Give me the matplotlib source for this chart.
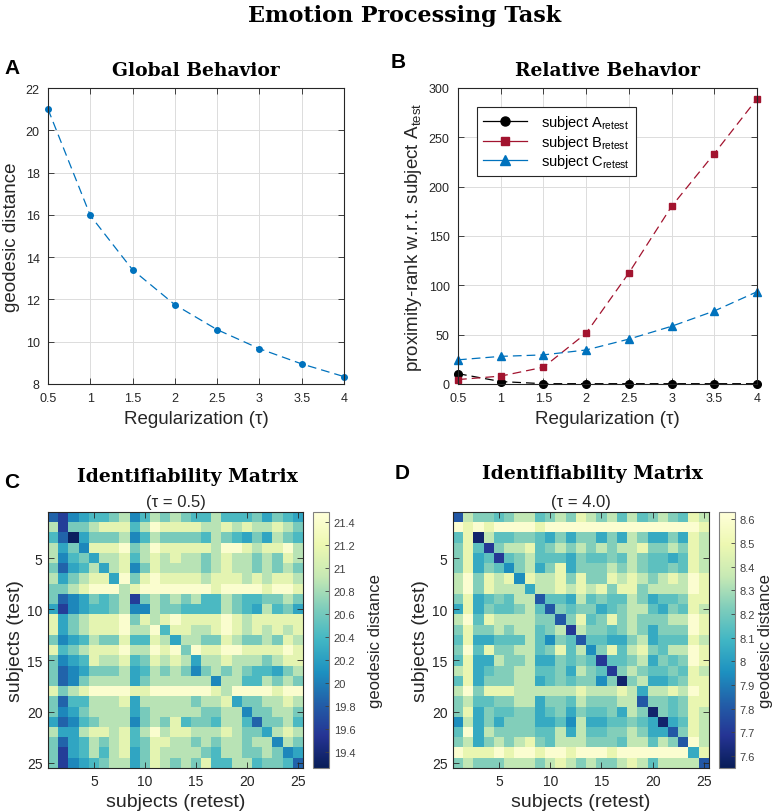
import numpy as np
import matplotlib as mpl
import matplotlib.pyplot as plt

mpl.use('AGG')

# ---------------------------------------------------------------------------------------------
# Data
tau = [0.5, 1.0, 1.5, 2.0, 2.5, 3.0, 3.5, 4.0]
global_dist = [21.0, 15.97, 13.4, 11.75, 10.57, 9.67, 8.95, 8.35]

rank_a = [10.5, 2.5, 0.3, 0.3, 0.3, 0.3, 0.3, 0.3]
rank_b = [4.5, 8.0, 17.0, 51.5, 112.5, 180.0, 233.5, 289.0]
rank_c = [24.5, 28.0, 29.5, 34.5, 45.5, 58.5, 74.0, 93.5]

# colour level (0 = darkest .. 9 = lightest) of every cell, rows = test, cols = retest
levels_c = [
	'2134556735767655755564654',
	'7166788857988887787877876',
	'5204666735766665765464765',
	'7463888967988888799878897',
	'7356477857878776787767687',
	'6245747836877776787767676',
	'7467884968988887888787887',
	'6678999789999999899998998',
	'6234656716767675576556676',
	'4134556733766555576547564',
	'8467888968789888898788888',
	'8467888977958877898787878',
	'6345766855874776687667687',
	'8567888977989698899888898',
	'6345877856878747787776788',
	'6234666745767636767655467',
	'6236777746777777377557676',
	'8678999988999999879999899',
	'6255777847777767784667787',
	'6346777746777776677366776',
	'4235677736768566577526675',
	'7447887857978877787664787',
	'6245767856887767677677376',
	'6145757846877776577667634',
	'6134567746876768557756652',
]
values_c = [19.30, 19.60, 19.85, 20.05, 20.25, 20.42, 20.62, 20.88, 21.15, 21.42]

levels_d = [
	'2766567756768767575676587',
	'9898999989999999999999998',
	'5807556654646646476446487',
	'6851677856767676778667687',
	'6845156755546556576554587',
	'6846536746846667676556587',
	'7968783877868668787678798',
	'7968777477878786886777798',
	'6845657725547565576455688',
	'4846556752656645677546587',
	'7958777766268568676667798',
	'6866767756717665676466698',
	'5844555753652554467455587',
	'6958667756857368578657798',
	'5844766744656515567465698',
	'7845667755647651676556587',
	'5846667745656636067445688',
	'7968887777778777874778798',
	'6755667746657666772665688',
	'6846556645646556476065687',
	'3746466644537445565404587',
	'5947666655747556676442687',
	'6746767865777666577576297',
	'9888989989989998999999948',
	'6766677767876766787577772',
]
values_d = [7.60, 7.70, 7.80, 7.95, 8.05, 8.15, 8.23, 8.35, 8.48, 8.60]

subject_ticks = [5, 10, 15, 20, 25]
cbar_ticks_c = [19.4, 19.6, 19.8, 20.0, 20.2, 20.4, 20.6, 20.8, 21.0, 21.2, 21.4]
cbar_ticks_d = [7.6, 7.7, 7.8, 7.9, 8.0, 8.1, 8.2, 8.3, 8.4, 8.5, 8.6]

# ---------------------------------------------------------------------------------------------
W, H = 777, 812
SANS = ['Liberation Sans', 'DejaVu Sans']
SERIF = ['DejaVu Serif']
INK = '#262626'
BLUE = '#0072BD'
RED = '#A2142F'

plt.rcParams['font.family'] = SANS
plt.rcParams['axes.edgecolor'] = INK
plt.rcParams['axes.linewidth'] = 0.8

fig = plt.figure(figsize=(W / 100, H / 100), dpi=100, facecolor='white')


def box(left, top, right, bottom):
	# pixel box -> figure fraction rect
	return [left / W, 1 - bottom / H, (right - left) / W, (bottom - top) / H]


def matlab_style(ax, labelsize=9):
	ax.tick_params(direction='in', top=True, right=True, length=4, width=0.6,
		colors=INK, labelsize=labelsize, pad=6)


def to_matrix(rows, table):
	return np.array([[table[int(ch)] for ch in row] for row in rows])


tick_text = ['0.5', '1', '1.5', '2', '2.5', '3', '3.5', '4']

# Panel A -------------------------------------------------------------------------------------
ax_a = fig.add_axes(box(48, 89, 344, 385))
ax_a.plot(tau, global_dist, color=BLUE, linewidth=0.9, dashes=(7, 4),
	marker='o', markersize=4, clip_on=False)
ax_a.set_xlim(0.5, 4)
ax_a.set_ylim(8, 22)
ax_a.set_xticks(tau)
ax_a.set_xticklabels(tick_text)
ax_a.set_yticks(range(8, 23, 2))
ax_a.grid(color='#dcdcdc', linewidth=0.7)
ax_a.set_axisbelow(True)
matlab_style(ax_a)
ax_a.set_xlabel('Regularization (τ)', fontsize=13.5, color=INK, labelpad=4)
ax_a.set_ylabel('geodesic distance', fontsize=13.5, color=INK, labelpad=4)
ax_a.set_title('Global Behavior', fontsize=13.5, fontweight='bold', family=SERIF, pad=9)

# Panel B -------------------------------------------------------------------------------------
ax_b = fig.add_axes(box(458, 89, 757, 385))
series_b = (
	(rank_a, 'black', 'o', 5.5, r'subject A$_\mathregular{retest}$'),
	(rank_b, RED, 's', 5, r'subject B$_\mathregular{retest}$'),
	(rank_c, BLUE, '^', 6, r'subject C$_\mathregular{retest}$'),
)
legend_handles = []
for (vals, color, marker, msize, label) in series_b:
	ax_b.plot(tau, vals, color=color, linewidth=0.9, dashes=(7, 4),
		marker=marker, markersize=msize, clip_on=False)
	legend_handles.append(mpl.lines.Line2D([], [], color=color, linewidth=0.9,
		marker=marker, markersize=msize + 1, label=label))
ax_b.set_xlim(0.5, 4)
ax_b.set_ylim(0, 300)
ax_b.set_xticks(tau)
ax_b.set_xticklabels(tick_text)
ax_b.set_yticks(range(0, 301, 50))
ax_b.grid(color='#dcdcdc', linewidth=0.7)
ax_b.set_axisbelow(True)
matlab_style(ax_b)
ax_b.set_xlabel('Regularization (τ)', fontsize=13.5, color=INK, labelpad=4)
ax_b.set_ylabel(r'proximity-rank w.r.t. subject A$_\mathregular{test}$', fontsize=13.5,
	color=INK, labelpad=3)
ax_b.set_title('Relative Behavior', fontsize=13.5, fontweight='bold', family=SERIF, pad=9)

leg = ax_b.legend(handles=legend_handles, loc='upper left', bbox_to_anchor=(0.04, 0.96),
	fontsize=10.5, handlelength=3.0, handletextpad=1.0, labelspacing=0.12, borderpad=0.4,
	fancybox=False, edgecolor=INK, framealpha=1)
leg.get_frame().set_linewidth(0.8)

# Panels C and D ------------------------------------------------------------------------------
cmap = plt.get_cmap('YlGnBu_r')


def matrix_panel(rect, cbar_rect, rows, table, vmin, vmax, cticks, tau_text, cpad):
	mat = to_matrix(rows, table)
	ax = fig.add_axes(rect)
	im = ax.imshow(mat, cmap=cmap, vmin=vmin, vmax=vmax, aspect='auto',
		extent=(0.5, 25.5, 25.5, 0.5), interpolation='nearest')
	ax.set_xticks(subject_ticks)
	ax.set_yticks(subject_ticks)
	matlab_style(ax, labelsize=10)
	ax.tick_params(pad=4)
	ax.set_xlabel('subjects (retest)', fontsize=14, color=INK, labelpad=4)
	ax.set_ylabel('subjects (test)', fontsize=14, color=INK, labelpad=2)
	ax.set_title(tau_text, fontsize=12, color=INK, pad=4)
	cax = fig.add_axes(cbar_rect)
	cb = fig.colorbar(im, cax=cax, ticks=cticks)
	cb.ax.set_yticklabels([f'{t:g}' for t in cticks])
	cb.ax.tick_params(direction='in', length=3, width=0.6, colors='#404040', labelsize=8)
	cb.outline.set_edgecolor('#808080')
	cb.outline.set_linewidth(0.8)
	cb.set_label('geodesic distance', fontsize=12, color=INK, labelpad=cpad)
	return ax


ax_c = matrix_panel(box(48, 513, 303, 769), box(313, 513, 329, 769), levels_c, values_c,
	19.26, 21.49, cbar_ticks_c, '(τ = 0.5)', 9)
ax_d = matrix_panel(box(453, 513, 709, 769), box(719, 513, 735, 769), levels_d, values_d,
	7.55, 8.63, cbar_ticks_d, '(τ = 4.0)', 2)

# Headline texts ------------------------------------------------------------------------------
fig.text(405 / W, 1 - 16 / H, 'Emotion Processing Task', ha='center', va='center',
	fontsize=16, fontweight='bold', family=SERIF)
fig.text(187 / W, 1 - 477 / H, 'Identifiability Matrix', ha='center', va='center',
	fontsize=13.5, fontweight='bold', family=SERIF)
fig.text(592 / W, 1 - 474 / H, 'Identifiability Matrix', ha='center', va='center',
	fontsize=13.5, fontweight='bold', family=SERIF)

for (letter, x, y) in (('A', 12, 68), ('B', 398, 63), ('C', 12, 483), ('D', 402, 474)):
	fig.text(x / W, 1 - y / H, letter, ha='center', va='center', fontsize=15,
		fontweight='bold')

fig.savefig('out.png', dpi=100)
plt.close()
